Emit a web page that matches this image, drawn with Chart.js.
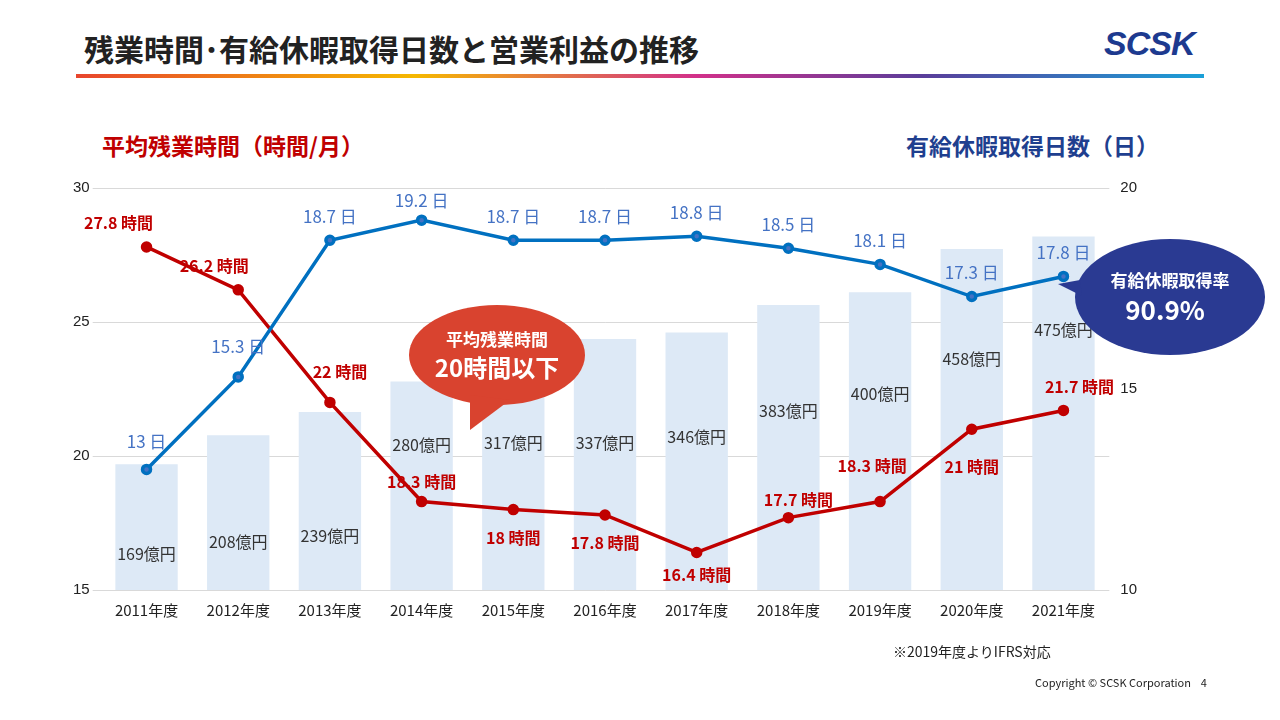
<!DOCTYPE html>
<html><head><meta charset="utf-8">
<script src="https://cdn.jsdelivr.net/npm/chart.js@4/dist/chart.umd.min.js"></script>
<style>
body{margin:0;width:1280px;height:720px;background:#fff;font-family:"Noto Sans CJK JP","Noto Sans",sans-serif;position:relative;overflow:hidden}
#title{position:absolute;left:84px;top:26px;font-size:30px;font-weight:bold;color:#222}
#logo{position:absolute;left:1104px;top:24px;font:italic bold 34px "Liberation Sans",Arial;color:#1d3a8f;letter-spacing:-1px}
#rule{position:absolute;left:76px;top:74px;width:1128px;height:4px;background:linear-gradient(90deg,#e8452d,#f5b800 30%,#d2308a 55%,#5a3d9a 75%,#1aa0d8)}
.ax{position:absolute;top:128px;font-size:23px;font-weight:bold}
#foot{position:absolute;left:893px;top:641px;font-size:14px;color:#222}
#copy{position:absolute;left:1035px;top:674px;font-size:11px;color:#222}
#wrap{position:absolute;left:0;top:0;width:1280px;height:720px}
</style></head><body>
<div id="title">残業時間･有給休暇取得日数と営業利益の推移</div>
<div id="logo">SCSK</div>
<div id="rule"></div>
<div class="ax" style="left:102px;color:#c00000">平均残業時間（時間/月）</div>
<div class="ax" style="left:906px;color:#1f3f8f">有給休暇取得日数（日）</div>
<div id="wrap"><canvas id="c" width="1280" height="720"></canvas></div>
<div id="foot">※2019年度よりIFRS対応</div>
<div id="copy">Copyright © SCSK Corporation &nbsp;&nbsp;&nbsp;4</div>
<script>
const years = ["2011年度","2012年度","2013年度","2014年度","2015年度","2016年度","2017年度","2018年度","2019年度","2020年度","2021年度"];
const profit = [169,208,239,280,317,337,346,383,400,458,475];
const overtime = [27.8,26.2,22,18.3,18,17.8,16.4,17.7,18.3,21,21.7];
const leaveDays = [13,15.3,18.7,19.2,18.7,18.7,18.8,18.5,18.1,17.3,17.8];
// where each profit label sits, in 億円 units on the bar scale
const profitLabelAt = [48,65,72,195,197,197,206,240,264,310,350];
// label offsets in px
const otLabelDx = [-28,-24,10,0,0,0,0,10,-8,0,16];
const otLabelDy = [-24,-24,-30,-20,28,28,22,-18,-36,38,-24];
const dayLabelDy = [-28,-30,-24,-20,-24,-24,-24,-24,-24,-24,-24];

const labels = {
  id:'labels',
  afterDatasetsDraw(chart){
    const ctx = chart.ctx, x = chart.scales.x, yb = chart.scales.yb, yl = chart.scales.y, yr = chart.scales.y1;
    ctx.save(); ctx.textAlign='center'; ctx.textBaseline='middle';
    ctx.font='16px "Noto Sans CJK JP"'; ctx.fillStyle='#333';
    profit.forEach((v,i)=>ctx.fillText(v+'億円', x.getPixelForValue(i), yb.getPixelForValue(profitLabelAt[i])));
    ctx.font='bold 16px "Noto Sans CJK JP"'; ctx.fillStyle='#c00000';
    overtime.forEach((v,i)=>ctx.fillText(v+' 時間', x.getPixelForValue(i)+otLabelDx[i], yl.getPixelForValue(v)+otLabelDy[i]));
    ctx.font='17px "Noto Sans CJK JP"'; ctx.fillStyle='#4472c4';
    leaveDays.forEach((v,i)=>ctx.fillText(v+' 日', x.getPixelForValue(i), yr.getPixelForValue(v)+dayLabelDy[i]));
    // red callout
    ctx.fillStyle='#d9432f';
    ctx.beginPath(); ctx.ellipse(497,355,88,50,0,0,Math.PI*2); ctx.fill();
    ctx.beginPath(); ctx.moveTo(470,395); ctx.lineTo(470,430); ctx.lineTo(510,400); ctx.fill();
    ctx.fillStyle='#fff'; ctx.font='bold 17px "Noto Sans CJK JP"'; ctx.fillText('平均残業時間',497,340);
    ctx.font='bold 24px "Noto Sans CJK JP"'; ctx.fillText('20時間以下',497,368);
    // blue callout
    ctx.fillStyle='#2a3a92';
    ctx.beginPath(); ctx.ellipse(1170,297,95,58,0,0,Math.PI*2); ctx.fill();
    ctx.beginPath(); ctx.moveTo(1080,280); ctx.lineTo(1058,284); ctx.lineTo(1082,296); ctx.fill();
    ctx.fillStyle='#fff'; ctx.font='bold 17px "Noto Sans CJK JP"'; ctx.fillText('有給休暇取得率',1170,281);
    ctx.font='bold 26px "Noto Sans CJK JP"'; ctx.fillText('90.9%',1165,310);
    ctx.restore();
  }
};

new Chart(document.getElementById('c'), {
  data:{
    labels: years,
    datasets:[
      {type:'line',label:'有給',data:leaveDays,yAxisID:'y1',borderColor:'#0070c0',backgroundColor:'#4472c4',borderWidth:3.5,pointRadius:4,order:1},
      {type:'line',label:'残業',data:overtime,yAxisID:'y',borderColor:'#c00000',backgroundColor:'#c00000',borderWidth:3.5,pointRadius:4,order:2},
      {type:'bar',label:'営業利益',data:profit,yAxisID:'yb',backgroundColor:'#dde9f6',categoryPercentage:0.68,barPercentage:1,order:3}
    ]
  },
  options:{
    responsive:false, animation:false,
    layout:{padding:{left:70,right:140,top:188,bottom:98}},
    plugins:{legend:{display:false},tooltip:{enabled:false}},
    scales:{
      x:{grid:{display:false},border:{display:false},ticks:{color:'#222',font:{size:15,family:'"Noto Sans CJK JP"'}}},
      y:{position:'left',min:15,max:30,ticks:{stepSize:5,color:'#222',font:{size:15}},grid:{color:'#d9d9d9'},border:{display:false}},
      y1:{position:'right',min:10,max:20,ticks:{stepSize:5,color:'#222',font:{size:15}},grid:{display:false},border:{display:false}},
      yb:{display:false,min:0,max:540}
    }
  },
  plugins:[labels]
});
</script>
</body></html>
